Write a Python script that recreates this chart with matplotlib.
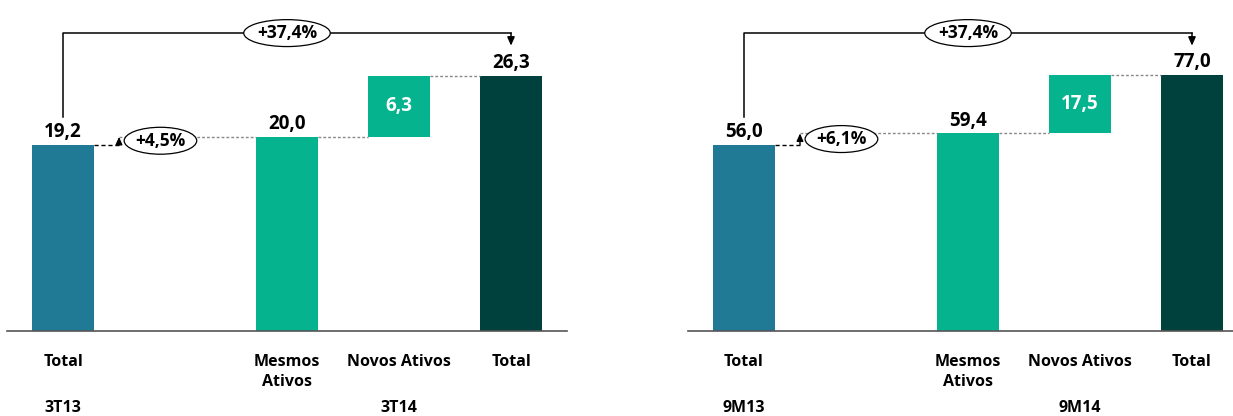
import matplotlib
matplotlib.use("Agg")
import matplotlib.pyplot as plt

plt.rcParams['font.family'] = ['Open Sans', 'DejaVu Sans']

# data
categories = ["Total", "Mesmos\nAtivos", "Novos Ativos", "Total"]
cat_pos = [0, 2, 3, 4]

left_vals = [19.2, 20.0, 6.3, 26.3]
left_periods = ["3T13", "3T14"]
left_growth = "+4,5%"
left_total_growth = "+37,4%"

right_vals = [56.0, 59.4, 17.5, 77.0]
right_periods = ["9M13", "9M14"]
right_growth = "+6,1%"
right_total_growth = "+37,4%"

C_BASE = "#217A95"
C_GREEN = "#05B48F"
C_DARK = "#00413E"


def fmt(v):
	return f"{v:.1f}".replace('.', ',')


def waterfall(ax, vals, periods, growth, total_growth, ymax, xmax):
	base, same, new, total = vals
	w = 0.56
	hw = w / 2
	ax.bar(0, base, width=w, color=C_BASE)
	ax.bar(2, same, width=w, color=C_GREEN)
	ax.bar(3, new, bottom=same, width=w, color=C_GREEN)
	ax.bar(4, total, width=w, color=C_DARK)

	ax.set_xlim(-0.5, xmax)
	ax.set_ylim(0, ymax)
	for s in ["top", "right", "left"]:
		ax.spines[s].set_visible(False)
	ax.spines["bottom"].set_color("#555555")
	ax.spines["bottom"].set_linewidth(1.2)
	ax.set_xticks([])
	ax.set_yticks([])

	# value labels
	for x, v in [(0, base), (2, same), (4, total)]:
		ax.annotate(fmt(v), (x, v), xytext=(0, 2), textcoords="offset points",
					ha="center", va="bottom", fontsize=13.5, fontweight="bold")
	ax.text(3, same + new / 2, fmt(new), ha="center", va="center",
			fontsize=13.5, fontweight="bold", color="white")

	# connectors
	ax.plot([hw, 0.5], [base, base], color="black", lw=1, ls=(0, (3, 2)))
	ax.plot([0.5, 2 - hw], [same, same], color="#888888", lw=1, ls=(0, (2, 1.5)))
	ax.plot([2 + hw, 3 - hw], [same, same], color="#888888", lw=1, ls=(0, (2, 1.5)))
	ax.plot([3 + hw, 4 - hw], [same + new, same + new], color="#888888", lw=1, ls=(0, (2, 1.5)))
	ax.annotate("", xy=(0.5, same), xytext=(0.5, base),
				arrowprops=dict(arrowstyle="-|>,head_length=0.45,head_width=0.2", color="black", lw=1,
								shrinkA=0, shrinkB=0))
	ax.text(0.87, (base + same) / 2, growth, ha="center", va="center",
			fontsize=12.5, fontweight="bold",
			bbox=dict(boxstyle="ellipse,pad=0.03", fc="white", ec="black", lw=0.9))

	# total bracket
	tr = ax.get_xaxis_transform()
	ax.plot([0, 0, 4], [0.647, 0.90, 0.90], color="black", lw=1.1, transform=tr, clip_on=False)
	ax.annotate("", xy=(4, 0.862), xytext=(4, 0.90), xycoords=tr, textcoords=tr,
				arrowprops=dict(arrowstyle="-|>,head_length=0.5,head_width=0.22", color="black", lw=1.1,
								shrinkA=0, shrinkB=0))
	ax.text(2, 0.90, total_growth, transform=tr, ha="center", va="center",
			fontsize=12.5, fontweight="bold",
			bbox=dict(boxstyle="ellipse,pad=0.03", fc="white", ec="black", lw=0.9))

	# category labels
	for x, lab in zip(cat_pos, categories):
		ax.text(x, -0.068, lab, transform=tr, ha="center", va="top",
				fontsize=11.5, fontweight="bold", linespacing=1.4)
	ax.text(0, -0.232, periods[0], transform=tr, ha="center", va="center",
			fontsize=11.5, fontweight="bold")
	ax.text(3, -0.232, periods[1], transform=tr, ha="center", va="center",
			fontsize=11.5, fontweight="bold")


fig = plt.figure(figsize=(12.33, 4.16), dpi=100)
W, H = 1233.0, 416.0
ax1 = fig.add_axes([7 / W, 85 / H, 560 / W, 331 / H])
ax2 = fig.add_axes([688 / W, 85 / H, 545 / W, 331 / H])

waterfall(ax1, left_vals, left_periods, left_growth, left_total_growth, 34.1, 4.5)
waterfall(ax2, right_vals, right_periods, right_growth, right_total_growth, 99.5, 4.5 - 15 / 112)

fig.savefig("out.png", dpi=100)
